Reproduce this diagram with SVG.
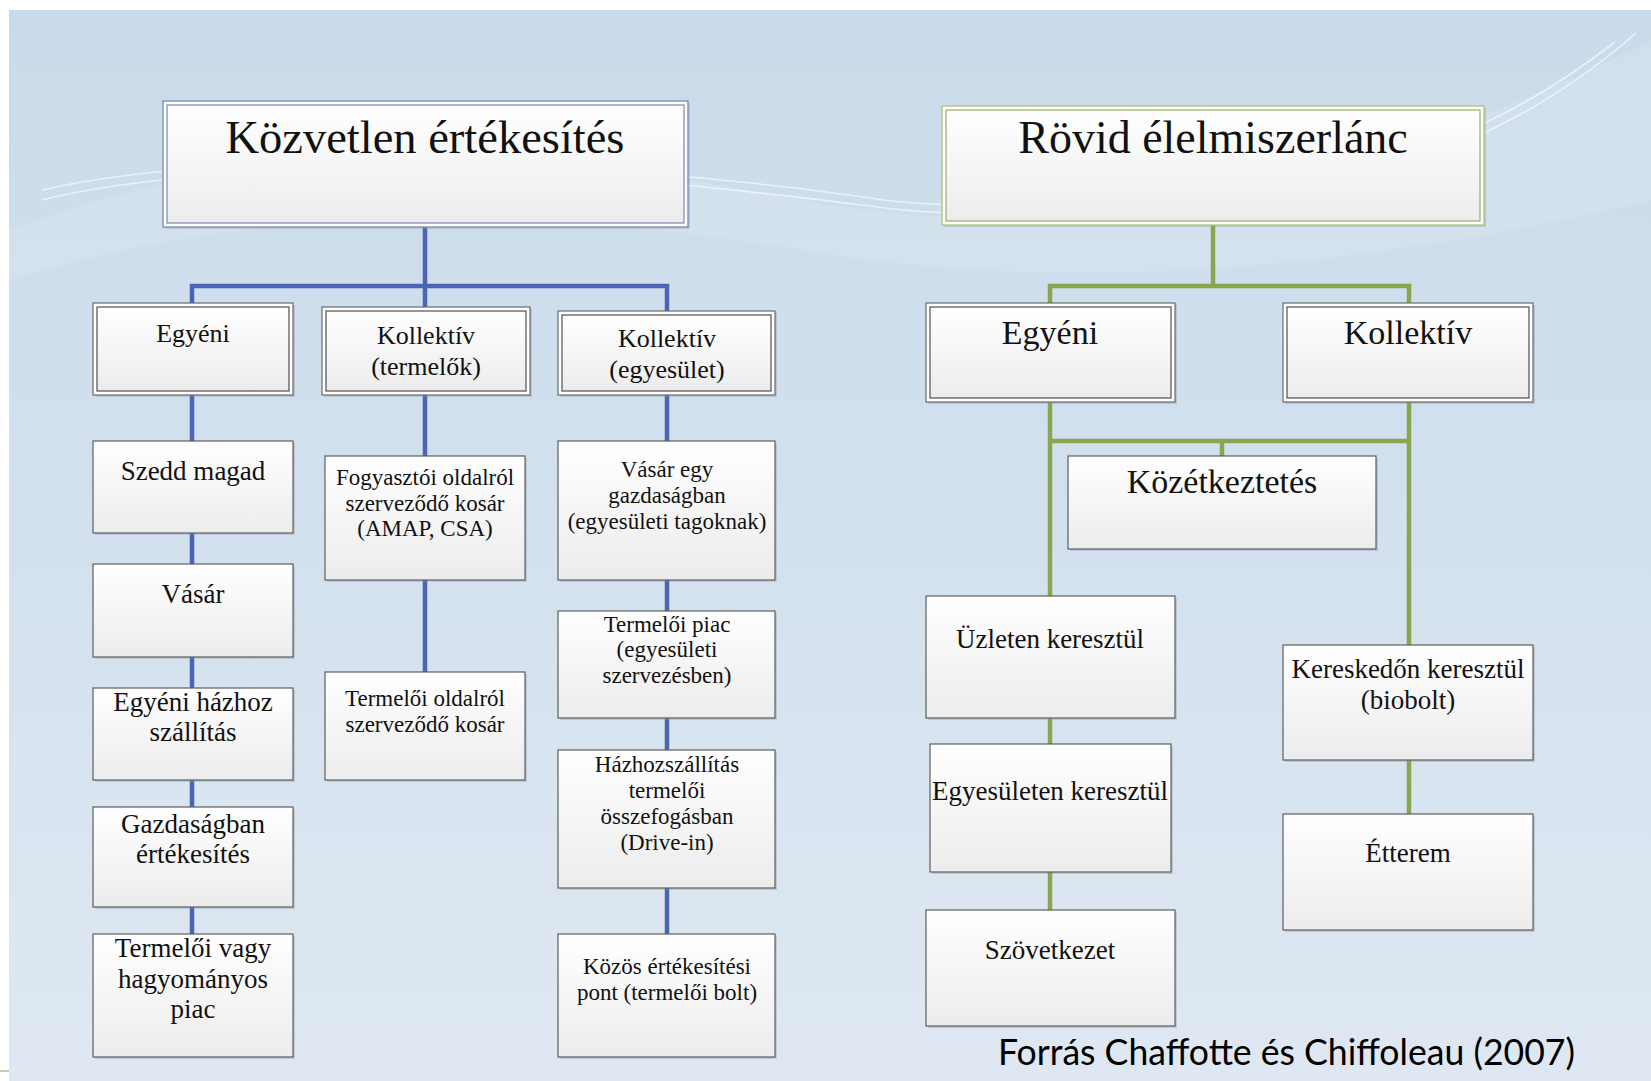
<svg xmlns="http://www.w3.org/2000/svg" width="1651" height="1081" viewBox="0 0 1651 1081">
<defs>
<linearGradient id="bg" x1="0" y1="0" x2="0" y2="1">
<stop offset="0" stop-color="#c9dbea"/>
<stop offset="0.5" stop-color="#d3e1ee"/>
<stop offset="1" stop-color="#dfe8f2"/>
</linearGradient>
<linearGradient id="boxfill" x1="0" y1="0" x2="0" y2="1">
<stop offset="0" stop-color="#ffffff"/>
<stop offset="1" stop-color="#ececec"/>
</linearGradient>
<style>
.leaf{fill:url(#boxfill);stroke:#5e5e5e;stroke-width:1.2}
.shadow{fill:#8a96a6;opacity:0.35}
.outer{fill:#ffffff;stroke:#6a6a6a;stroke-width:1.2}
.inner{fill:url(#boxfill);stroke:#4f4f4f;stroke-width:1.2}
.outerB{fill:#ffffff;stroke:#8596b8;stroke-width:1.5}
.innerB{fill:url(#boxfill);stroke:#7a8aa8;stroke-width:1.2}
.outerG{fill:#ffffff;stroke:#b7c889;stroke-width:1.5}
.innerG{fill:url(#boxfill);stroke:#9aae62;stroke-width:1.2}
text{font-family:"Liberation Serif","Times New Roman",serif;fill:#111;text-anchor:middle}
.blue{stroke:#4a64b6;stroke-width:4.5;fill:none}
.green{stroke:#8aa54d;stroke-width:4.5;fill:none}
.swoosh{fill:none;stroke:#ffffff;stroke-width:1.6;opacity:0.6}
</style>
</defs>

<rect x="0" y="0" width="1651" height="1081" fill="#ffffff"/>
<rect x="9" y="10" width="1642" height="1071" fill="url(#bg)"/>
<line x1="0" y1="1071" x2="9" y2="1071" stroke="#c6b69a" stroke-width="1.5"/>

<g id="background-swooshes">
<path d="M 9 230 C 300 120, 600 160, 800 200 C 1000 240, 1300 220, 1651 40 L 1651 200 C 1400 260, 1100 300, 800 250 C 600 215, 300 190, 9 280 Z" fill="#ffffff" opacity="0.12"/>
<path class="swoosh" d="M 42 200 C 120 180, 300 160, 520 172 C 650 180, 760 192, 870 206 C 960 220, 1100 215, 1300 190 C 1450 165, 1560 100, 1636 33"/>
<path class="swoosh" d="M 42 190 C 120 172, 300 152, 520 164 C 650 172, 760 182, 870 198 C 960 212, 1100 206, 1300 180 C 1440 158, 1540 100, 1615 42"/>
</g>

<g id="connectors">
<polyline class="blue" points="425,227 425,286"/>
<polyline class="blue" points="192,303 192,286 667,286 667,311"/>
<line class="blue" x1="425" y1="286" x2="425" y2="307"/>
<line class="blue" x1="192" y1="395" x2="192" y2="441"/>
<line class="blue" x1="192" y1="533" x2="192" y2="564"/>
<line class="blue" x1="192" y1="657" x2="192" y2="688"/>
<line class="blue" x1="192" y1="780" x2="192" y2="807"/>
<line class="blue" x1="192" y1="907" x2="192" y2="934"/>
<line class="blue" x1="425" y1="395" x2="425" y2="456"/>
<line class="blue" x1="425" y1="580" x2="425" y2="672"/>
<line class="blue" x1="667" y1="395" x2="667" y2="441"/>
<line class="blue" x1="667" y1="580" x2="667" y2="611"/>
<line class="blue" x1="667" y1="718" x2="667" y2="750"/>
<line class="blue" x1="667" y1="888" x2="667" y2="934"/>

<line class="green" x1="1213" y1="225" x2="1213" y2="286"/>
<polyline class="green" points="1050,303 1050,286 1409,286 1409,303"/>
<line class="green" x1="1050" y1="402" x2="1050" y2="596"/>
<line class="green" x1="1409" y1="402" x2="1409" y2="645"/>
<line class="green" x1="1050" y1="441" x2="1409" y2="441"/>
<line class="green" x1="1222" y1="441" x2="1222" y2="456"/>
<line class="green" x1="1050" y1="718" x2="1050" y2="744"/>
<line class="green" x1="1050" y1="872" x2="1050" y2="910"/>
<line class="green" x1="1409" y1="760" x2="1409" y2="814"/>
</g>

<g id="kozvetlen-ertekesites">
<rect class="shadow" x="165" y="103" width="525" height="126"/>
<rect class="outerB" x="163" y="101" width="525" height="126"/>
<rect class="innerB" x="167" y="105" width="517" height="118"/>
<text x="425" y="153" font-size="46.5">Közvetlen értékesítés</text>
</g>

<g id="rovid-elelmiszerlanc">
<rect class="shadow" x="944" y="108" width="542" height="119"/>
<rect class="outerG" x="942" y="106" width="542" height="119"/>
<rect class="innerG" x="946" y="110" width="534" height="111"/>
<text x="1213" y="153" font-size="46">Rövid élelmiszerlánc</text>
</g>

<g id="egyeni-left">
<rect class="shadow" x="95" y="305" width="200" height="92"/>
<rect class="outer" x="93" y="303" width="200" height="92"/>
<rect class="inner" x="97" y="307" width="192" height="84"/>
<text x="193" y="342" font-size="26">Egyéni</text>
</g>

<g id="kollektiv-termelok">
<rect class="shadow" x="324" y="309" width="208" height="88"/>
<rect class="outer" x="322" y="307" width="208" height="88"/>
<rect class="inner" x="326" y="311" width="200" height="80"/>
<text x="426" y="344" font-size="26">Kollektív</text>
<text x="426" y="375" font-size="26">(termelők)</text>
</g>

<g id="kollektiv-egyesulet">
<rect class="shadow" x="560" y="313" width="217" height="84"/>
<rect class="outer" x="558" y="311" width="217" height="84"/>
<rect class="inner" x="562" y="315" width="209" height="76"/>
<text x="667" y="347" font-size="26">Kollektív</text>
<text x="667" y="378" font-size="26">(egyesület)</text>
</g>

<g id="szedd-magad">
<rect class="shadow" x="95" y="443" width="200" height="92"/>
<rect class="leaf" x="93" y="441" width="200" height="92"/>
<text x="193" y="480" font-size="27">Szedd magad</text>
</g>

<g id="vasar">
<rect class="shadow" x="95" y="566" width="200" height="93"/>
<rect class="leaf" x="93" y="564" width="200" height="93"/>
<text x="193" y="603" font-size="27">Vásár</text>
</g>

<g id="egyeni-hazhoz-szallitas">
<rect class="shadow" x="95" y="690" width="200" height="92"/>
<rect class="leaf" x="93" y="688" width="200" height="92"/>
<text x="193" y="711" font-size="27">Egyéni házhoz</text>
<text x="193" y="741" font-size="27">szállítás</text>
</g>

<g id="gazdasagban-ertekesites">
<rect class="shadow" x="95" y="809" width="200" height="100"/>
<rect class="leaf" x="93" y="807" width="200" height="100"/>
<text x="193" y="833" font-size="27">Gazdaságban</text>
<text x="193" y="863" font-size="27">értékesítés</text>
</g>

<g id="termeloi-vagy-hagyomanyos-piac">
<rect class="shadow" x="95" y="936" width="200" height="123"/>
<rect class="leaf" x="93" y="934" width="200" height="123"/>
<text x="193" y="957" font-size="27">Termelői vagy</text>
<text x="193" y="988" font-size="27">hagyományos</text>
<text x="193" y="1018" font-size="27">piac</text>
</g>

<g id="fogyasztoi-oldalrol">
<rect class="shadow" x="327" y="458" width="200" height="124"/>
<rect class="leaf" x="325" y="456" width="200" height="124"/>
<text x="425" y="485" font-size="23">Fogyasztói oldalról</text>
<text x="425" y="511" font-size="23">szerveződő kosár</text>
<text x="425" y="536" font-size="23">(AMAP, CSA)</text>
</g>

<g id="termeloi-oldalrol">
<rect class="shadow" x="327" y="674" width="200" height="108"/>
<rect class="leaf" x="325" y="672" width="200" height="108"/>
<text x="425" y="706" font-size="23">Termelői oldalról</text>
<text x="425" y="732" font-size="23">szerveződő kosár</text>
</g>

<g id="vasar-egy-gazdasagban">
<rect class="shadow" x="560" y="443" width="217" height="139"/>
<rect class="leaf" x="558" y="441" width="217" height="139"/>
<text x="667" y="477" font-size="23">Vásár egy</text>
<text x="667" y="503" font-size="23">gazdaságban</text>
<text x="667" y="529" font-size="23">(egyesületi tagoknak)</text>
</g>

<g id="termeloi-piac">
<rect class="shadow" x="560" y="613" width="217" height="107"/>
<rect class="leaf" x="558" y="611" width="217" height="107"/>
<text x="667" y="632" font-size="23">Termelői piac</text>
<text x="667" y="657" font-size="23">(egyesületi</text>
<text x="667" y="683" font-size="23">szervezésben)</text>
</g>

<g id="hazhozszallitas">
<rect class="shadow" x="560" y="752" width="217" height="138"/>
<rect class="leaf" x="558" y="750" width="217" height="138"/>
<text x="667" y="772" font-size="23">Házhozszállítás</text>
<text x="667" y="798" font-size="23">termelői</text>
<text x="667" y="824" font-size="23">összefogásban</text>
<text x="667" y="850" font-size="23">(Drive-in)</text>
</g>

<g id="kozos-ertekesitesi-pont">
<rect class="shadow" x="560" y="936" width="217" height="123"/>
<rect class="leaf" x="558" y="934" width="217" height="123"/>
<text x="667" y="974" font-size="23">Közös értékesítési</text>
<text x="667" y="1000" font-size="23">pont (termelői bolt)</text>
</g>

<g id="egyeni-right">
<rect class="shadow" x="928" y="305" width="249" height="99"/>
<rect class="outer" x="926" y="303" width="249" height="99"/>
<rect class="inner" x="930" y="307" width="241" height="91"/>
<text x="1050" y="344" font-size="34">Egyéni</text>
</g>

<g id="kollektiv-right">
<rect class="shadow" x="1285" y="305" width="250" height="99"/>
<rect class="outer" x="1283" y="303" width="250" height="99"/>
<rect class="inner" x="1287" y="307" width="242" height="91"/>
<text x="1408" y="344" font-size="34">Kollektív</text>
</g>

<g id="kozetkeztetes">
<rect class="shadow" x="1070" y="458" width="308" height="93"/>
<rect class="leaf" x="1068" y="456" width="308" height="93"/>
<text x="1222" y="493" font-size="34">Közétkeztetés</text>
</g>

<g id="uzleten-keresztul">
<rect class="shadow" x="928" y="598" width="249" height="122"/>
<rect class="leaf" x="926" y="596" width="249" height="122"/>
<text x="1050" y="648" font-size="27">Üzleten keresztül</text>
</g>

<g id="egyesuleten-keresztul">
<rect class="shadow" x="932" y="746" width="241" height="128"/>
<rect class="leaf" x="930" y="744" width="241" height="128"/>
<text x="1050" y="800" font-size="27">Egyesületen keresztül</text>
</g>

<g id="szovetkezet">
<rect class="shadow" x="928" y="912" width="249" height="116"/>
<rect class="leaf" x="926" y="910" width="249" height="116"/>
<text x="1050" y="959" font-size="27">Szövetkezet</text>
</g>

<g id="kereskedon-keresztul">
<rect class="shadow" x="1285" y="647" width="250" height="115"/>
<rect class="leaf" x="1283" y="645" width="250" height="115"/>
<text x="1408" y="678" font-size="27">Kereskedőn keresztül</text>
<text x="1408" y="709" font-size="27">(biobolt)</text>
</g>

<g id="etterem">
<rect class="shadow" x="1285" y="816" width="250" height="116"/>
<rect class="leaf" x="1283" y="814" width="250" height="116"/>
<text x="1408" y="862" font-size="27">Étterem</text>
</g>

<text x="998" y="1065" font-size="36" textLength="577" lengthAdjust="spacingAndGlyphs" style="font-family:Lato,'Open Sans','Liberation Sans',sans-serif;text-anchor:start;fill:#000">Forrás Chaffotte és Chiffoleau (2007)</text>
</svg>
